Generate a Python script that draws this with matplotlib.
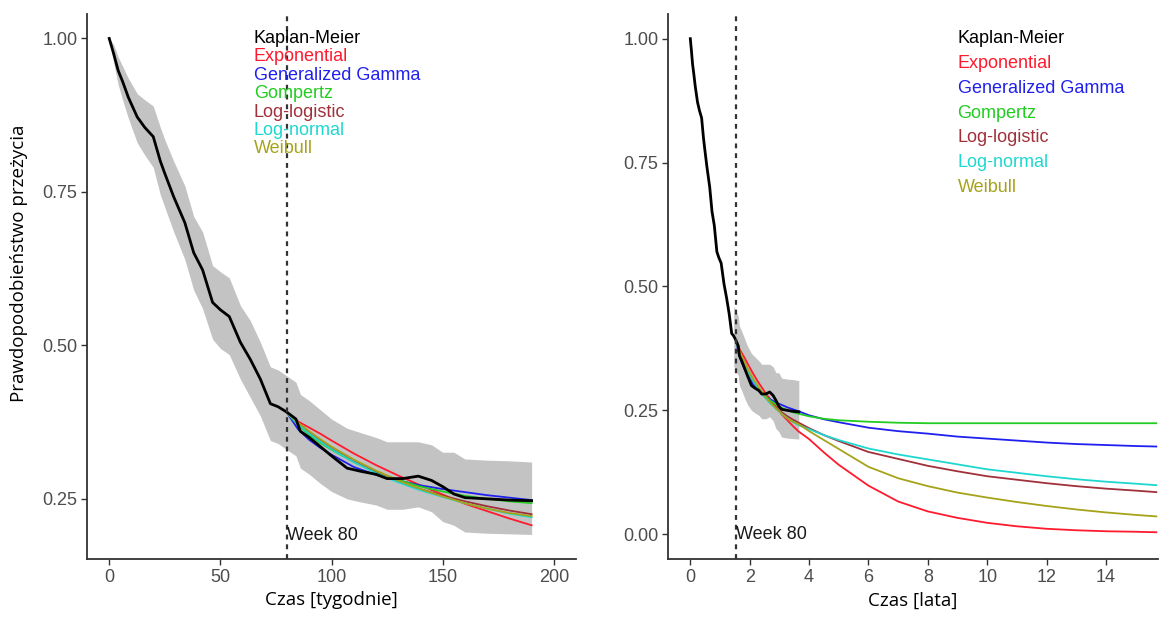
"""
Kaplan-Meier curve with parametric extrapolations (weeks and years panels).
"""
import numpy as np
import matplotlib
matplotlib.use("Agg")
import matplotlib.pyplot as plt
import matplotlib.ticker as mticker

# --- Kaplan-Meier estimate (weeks) with 95% CI ---
KM_WEEKS = [0, 2, 4, 6, 8.6, 12.6, 16, 19.8, 23, 25, 29, 34, 38, 42, 46.5, 50, 54, 59,
            63.5, 68, 72.5, 76, 80, 84, 86, 90, 95, 100, 107, 113, 120, 125, 132, 139,
            145, 150, 155, 160, 170, 180, 190]
KM_SURV = [1.000, 0.975, 0.948, 0.930, 0.904, 0.872, 0.855, 0.840, 0.800, 0.780, 0.742,
           0.700, 0.651, 0.623, 0.570, 0.558, 0.547, 0.505, 0.477, 0.445, 0.405, 0.400,
           0.391, 0.380, 0.360, 0.350, 0.335, 0.320, 0.300, 0.295, 0.290, 0.283, 0.283,
           0.287, 0.280, 0.270, 0.258, 0.252, 0.250, 0.248, 0.247]
CI_LOWER = [1.000, 0.960, 0.925, 0.900, 0.870, 0.830, 0.810, 0.790, 0.745, 0.725, 0.685,
            0.640, 0.590, 0.560, 0.510, 0.495, 0.485, 0.445, 0.415, 0.385, 0.345, 0.340,
            0.330, 0.320, 0.300, 0.290, 0.275, 0.262, 0.250, 0.245, 0.240, 0.233, 0.233,
            0.237, 0.229, 0.213, 0.207, 0.196, 0.194, 0.193, 0.192]
CI_UPPER = [1.000, 0.990, 0.970, 0.955, 0.935, 0.910, 0.900, 0.890, 0.855, 0.835, 0.800,
            0.760, 0.710, 0.685, 0.630, 0.620, 0.610, 0.565, 0.540, 0.505, 0.465, 0.460,
            0.450, 0.440, 0.420, 0.410, 0.395, 0.380, 0.365, 0.358, 0.350, 0.343, 0.343,
            0.343, 0.338, 0.326, 0.326, 0.315, 0.313, 0.312, 0.310]

# --- Parametric fits, starting at week 80 ---
FIT_WEEKS = [80, 85, 90, 95, 100, 110, 120, 130, 140, 150, 160, 170, 180, 190,
             208, 234, 260, 312, 364, 416, 468, 520, 572, 624, 676, 728, 780, 816]
FIT_EXPONENTIAL = [0.390, 0.376, 0.366, 0.356, 0.345, 0.324, 0.305, 0.288, 0.272, 0.257,
                   0.242, 0.230, 0.218, 0.207, 0.192, 0.165, 0.140, 0.098, 0.066, 0.046,
                   0.033, 0.023, 0.016, 0.011, 0.008, 0.006, 0.005, 0.004]
FIT_GENGAMMA = [0.390, 0.363, 0.346, 0.333, 0.322, 0.302, 0.289, 0.280, 0.272, 0.266,
                0.261, 0.256, 0.252, 0.248, 0.240, 0.232, 0.226, 0.215, 0.208, 0.203,
                0.197, 0.193, 0.189, 0.185, 0.182, 0.180, 0.178, 0.177]
FIT_GOMPERTZ = [0.390, 0.370, 0.354, 0.341, 0.330, 0.310, 0.294, 0.281, 0.270, 0.262,
                0.255, 0.250, 0.246, 0.243, 0.238, 0.233, 0.230, 0.227, 0.225, 0.224,
                0.224, 0.224, 0.224, 0.224, 0.224, 0.224, 0.224, 0.224]
FIT_LOGLOGISTIC = [0.390, 0.372, 0.357, 0.344, 0.332, 0.311, 0.293, 0.278, 0.266, 0.255,
                   0.246, 0.238, 0.231, 0.225, 0.214, 0.200, 0.188, 0.166, 0.152, 0.138,
                   0.127, 0.117, 0.110, 0.103, 0.097, 0.092, 0.088, 0.085]
FIT_LOGNORMAL = [0.390, 0.371, 0.356, 0.343, 0.331, 0.310, 0.292, 0.277, 0.264, 0.253,
                 0.243, 0.234, 0.226, 0.220, 0.212, 0.200, 0.190, 0.173, 0.161, 0.151,
                 0.141, 0.131, 0.124, 0.117, 0.111, 0.106, 0.102, 0.099]
FIT_WEIBULL = [0.390, 0.374, 0.360, 0.347, 0.335, 0.314, 0.296, 0.280, 0.266, 0.254,
               0.243, 0.234, 0.227, 0.222, 0.208, 0.190, 0.172, 0.136, 0.113, 0.097,
               0.084, 0.074, 0.065, 0.057, 0.050, 0.044, 0.039, 0.036]

MODEL_NAMES = ["Exponential", "Generalized Gamma", "Gompertz", "Log-logistic",
               "Log-normal", "Weibull"]
MODEL_COLORS = ["#FF1A2E", "#2020EE", "#22CC22", "#A0303A", "#1ED8D0", "#A6A31A"]

CUTOFF_WEEK = 80
WEEKS_PER_YEAR = 52

TICK_FONT = "Liberation Sans"
TITLE_FONT = "Open Sans"
AXIS_COLOR = "#333333"


def style_axes(ax):
    for side in ["top", "right"]:
        ax.spines[side].set_visible(False)
    for side in ["left", "bottom"]:
        ax.spines[side].set_color(AXIS_COLOR)
        ax.spines[side].set_linewidth(1.3)
    ax.tick_params(axis="both", length=4, width=1, color=AXIS_COLOR,
                   labelcolor="#4d4d4d", labelsize=13, pad=3)
    for lab in ax.get_xticklabels() + ax.get_yticklabels():
        lab.set_fontfamily(TICK_FONT)
    ax.yaxis.set_major_formatter(mticker.FormatStrFormatter("%.2f"))


def draw_panel(ax, scale, band_from, fit_until, legend_x, legend_y0, legend_step,
               week_text_y):
    km_t = np.array(KM_WEEKS) / scale
    lo = np.array(CI_LOWER)
    hi = np.array(CI_UPPER)
    mask = np.array(KM_WEEKS) >= band_from
    ax.fill_between(km_t[mask], lo[mask], hi[mask], color="#bdbdbd", alpha=0.9,
                    linewidth=0, zorder=1)

    fits = [FIT_EXPONENTIAL, FIT_GENGAMMA, FIT_GOMPERTZ, FIT_LOGLOGISTIC,
            FIT_LOGNORMAL, FIT_WEIBULL]
    weeks = np.array(FIT_WEEKS)
    keep = weeks <= fit_until
    fit_t = weeks[keep] / scale
    for vals, color in zip(fits, MODEL_COLORS):
        ax.plot(fit_t, np.array(vals)[keep], color=color, linewidth=1.3, zorder=2)

    ax.plot(km_t, KM_SURV, color="black", linewidth=2.0, zorder=3)

    ax.axvline(CUTOFF_WEEK / scale, color=AXIS_COLOR, linestyle=(0, (2.2, 2.2)),
               linewidth=1.6, zorder=4)
    ax.text(CUTOFF_WEEK / scale, week_text_y, "Week 80", ha="left", va="center",
            fontsize=13, fontfamily=TICK_FONT, color="#1a1a1a", zorder=5)

    labels = ["Kaplan-Meier"] + MODEL_NAMES
    colors = ["black"] + MODEL_COLORS
    for i, (lab, col) in enumerate(zip(labels, colors)):
        ax.text(legend_x, legend_y0 - i * legend_step, lab, ha="left", va="center",
                fontsize=13, fontfamily=TICK_FONT, color=col, zorder=5)


def main():
    fig = plt.figure(figsize=(11.6, 6.23), dpi=100, facecolor="white")
    ax1 = fig.add_axes([0.075, 0.1027, 0.4216, 0.875])
    ax2 = fig.add_axes([0.5759, 0.1027, 0.4224, 0.875])

    # weeks panel: fits shown only over the observed follow-up
    ax1.set_xlim(-10, 210)
    ax1.set_ylim(0.152, 1.040)
    ax1.set_xticks([0, 50, 100, 150, 200])
    ax1.set_yticks([0.25, 0.50, 0.75, 1.00])
    draw_panel(ax1, 1.0, 0, max(KM_WEEKS), 65, 1.00, 0.030, 0.19)
    style_axes(ax1)
    ax1.set_xlabel("Czas [tygodnie]", fontsize=13.5, fontfamily=TITLE_FONT, labelpad=4)
    ax1.set_ylabel("Prawdopodobieństwo przeżycia", fontsize=13.5, fontfamily=TITLE_FONT)
    ax1.yaxis.set_label_coords(-0.121, 0.543)

    # years panel: long-term extrapolation
    ax2.set_xlim(-0.75, 15.75)
    ax2.set_ylim(-0.05, 1.05)
    ax2.set_xticks(range(0, 15, 2))
    ax2.set_yticks([0.00, 0.25, 0.50, 0.75, 1.00])
    draw_panel(ax2, WEEKS_PER_YEAR, 76, max(FIT_WEEKS), 9.0, 1.00, 0.050, 0.0)
    style_axes(ax2)
    ax2.set_xlabel("Czas [lata]", fontsize=13.5, fontfamily=TITLE_FONT, labelpad=4)

    fig.savefig("out.png", dpi=100, facecolor="white")
    plt.close(fig)


if __name__ == "__main__":
    main()
